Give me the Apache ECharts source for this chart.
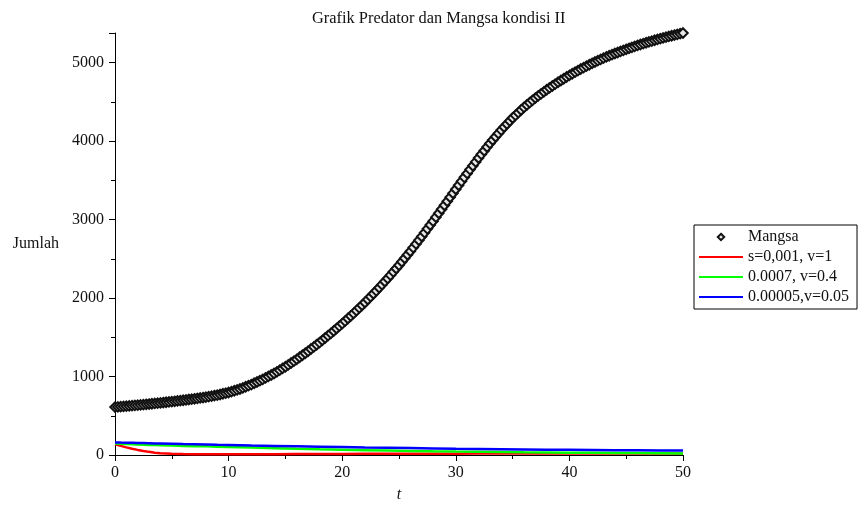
<!DOCTYPE html>
<html>
<head>
<meta charset="utf-8">
<script src="https://cdn.jsdelivr.net/npm/echarts@6/dist/echarts.min.js"></script>
<style>
html,body{margin:0;padding:0;background:#fff;}
#chart{width:863px;height:508px;}
</style>
</head>
<body>
<div id="chart"></div>
<script>
// Prey (Mangsa) values sampled every 0.25 time units from t=0 to t=50
var mangsaStep = 0.25;
var mangsa = [
610,613,616,619, 622,625,629,632, 635,639,642,646, 649,653,657,660, 664,668,672,676,
680,684,689,693, 697,702,707,711, 716,721,727,732, 737,744,750,757, 763,771,780,788,
796,807,819,830, 841,855,869,883, 897,914,930,947, 963,982,1001,1019, 1038,1060,1081,1103,
1124,1148,1172,1195, 1219,1245,1271,1296, 1322,1350,1377,1405, 1432,1461,1491,1520, 1549,1580,1611,1642,
1673,1706,1739,1771, 1804,1839,1874,1908, 1943,1980,2017,2054, 2091,2131,2170,2210, 2249,2291,2333,2375,
2417,2462,2506,2551, 2595,2642,2689,2736, 2783,2832,2881,2930, 2979,3030,3080,3131, 3181,3232,3283,3334,
3385,3436,3486,3537, 3587,3636,3685,3734, 3783,3830,3876,3923, 3969,4012,4054,4097, 4139,4178,4216,4255,
4293,4327,4361,4395, 4429,4459,4488,4518, 4547,4574,4600,4627, 4653,4677,4701,4725, 4749,4771,4793,4815,
4837,4857,4877,4897, 4917,4935,4954,4972, 4990,5007,5023,5040, 5056,5071,5086,5100, 5115,5128,5142,5155,
5168,5181,5193,5206, 5218,5229,5241,5252, 5263,5273,5284,5294, 5304,5313,5323,5332, 5341,5350,5359,5367,
5376
];

// Predator curves
var predTime = [0,0.5,1,1.5,2,2.5,3,3.5,4,5,6,7,8,9,10,12,14,16,18,20,22,24,26,28,30,32,34,36,38,40,42,44,46,48,50];
var predRed   = [135,116,97,80,65,52,40,29,22,16,12,10,9,9,9,10,11,12,13,14,15,16,16,17,17,18,18,18,18,18,18,18,18,18,18];
var predGreen = [145,142,139,136,133,130,128,126,124,120,116,113,110,106,102,95,87,79,72,67,62,57,52,47,43,40,37,34,32,30,28,26,24,22,20];
var predBlue  = [160,158,157,155,153,152,150,148,147,144,140,137,134,130,127,121,116,111,106,101,96,92,88,84,80,77,74,71,68,66,64,62,60,58,57];

var seriesNames = ['Mangsa', 's=0,001, v=1', '0.0007, v=0.4', '0.00005,v=0.05'];
var titleText = 'Grafik Predator dan Mangsa kondisi II';
var xName = 't';
var yName = 'Jumlah';

function pairs(ts, vs){ return vs.map(function(v,i){ return [ts[i], v]; }); }
var mangsaData = mangsa.map(function(v,i){ return [i*mangsaStep, v]; });

var FONT = '"Liberation Serif", "Times New Roman", serif';
var plain = function(v){ return String(v); };

var chart = echarts.init(document.getElementById('chart'), null, {renderer:'canvas'});
chart.setOption({
  animation: false,
  backgroundColor: '#fff',
  title: {
    text: titleText,
    left: 307, top: 6,
    textStyle: {fontFamily: FONT, fontSize: 16.4, fontWeight: 'normal', color: '#111'}
  },
  legend: {
    orient: 'vertical',
    left: 694, top: 225,
    padding: [2, 8, 2, 4],
    itemGap: 0,
    itemWidth: 44,
    itemHeight: 8,
    borderColor: '#000',
    borderWidth: 1,
    backgroundColor: '#fff',
    textStyle: {fontFamily: FONT, fontSize: 16, color: '#111', lineHeight: 20},
    data: [
      {name: seriesNames[0], lineStyle: {opacity: 0, width: 0}},
      {name: seriesNames[1], itemStyle: {opacity: 0}, lineStyle: {width: 2}},
      {name: seriesNames[2], itemStyle: {opacity: 0}, lineStyle: {width: 2}},
      {name: seriesNames[3], itemStyle: {opacity: 0}, lineStyle: {width: 2}}
    ]
  },
  grid: {left: 115, right: 180, top: 33, bottom: 48, containLabel: false},
  xAxis: {
    type: 'value',
    min: 0, max: 50, interval: 10,
    name: xName,
    nameLocation: 'middle',
    nameGap: 32,
    nameTextStyle: {fontFamily: FONT, fontSize: 16, fontStyle: 'italic', color: '#111'},
    axisLine: {show: true, onZero: false, lineStyle: {color: '#000', width: 1}},
    axisTick: {show: true, length: 6, lineStyle: {color: '#000'}},
    minorTick: {show: true, splitNumber: 2, length: 4, lineStyle: {color: '#000'}},
    splitLine: {show: false},
    minorSplitLine: {show: false},
    axisLabel: {fontFamily: FONT, fontSize: 16, color: '#111', margin: 10, formatter: plain}
  },
  yAxis: {
    type: 'value',
    min: 0, max: 'dataMax', interval: 1000,
    name: yName,
    nameLocation: 'middle',
    nameRotate: 0,
    nameGap: 56,
    nameTextStyle: {fontFamily: FONT, fontSize: 16, color: '#111', padding: [10, 0, 0, 0]},
    axisLine: {show: true, onZero: false, lineStyle: {color: '#000', width: 1}},
    axisTick: {show: true, length: 6, lineStyle: {color: '#000'}},
    minorTick: {show: true, splitNumber: 2, length: 4, lineStyle: {color: '#000'}},
    splitLine: {show: false},
    minorSplitLine: {show: false},
    axisLabel: {fontFamily: FONT, fontSize: 16, color: '#111', margin: 11, showMaxLabel: false, formatter: plain}
  },
  series: [
    {
      name: seriesNames[0], type: 'line', data: mangsaData,
      symbol: 'diamond', symbolSize: 9.5, showSymbol: true,
      lineStyle: {opacity: 0, width: 0},
      itemStyle: {color: '#e8e8e8', borderColor: '#111', borderWidth: 2},
      z: 2, silent: true
    },
    {
      name: seriesNames[1], type: 'line', data: pairs(predTime, predRed),
      symbol: 'none', lineStyle: {color: '#ff0000', width: 2.5}, itemStyle: {color: '#ff0000'}, z: 3, silent: true
    },
    {
      name: seriesNames[2], type: 'line', data: pairs(predTime, predGreen),
      symbol: 'none', lineStyle: {color: '#00ff00', width: 2.5}, itemStyle: {color: '#00ff00'}, z: 4, silent: true
    },
    {
      name: seriesNames[3], type: 'line', data: pairs(predTime, predBlue),
      symbol: 'none', lineStyle: {color: '#0000ff', width: 2.5}, itemStyle: {color: '#0000ff'}, z: 5, silent: true
    }
  ]
});
</script>
</body>
</html>
